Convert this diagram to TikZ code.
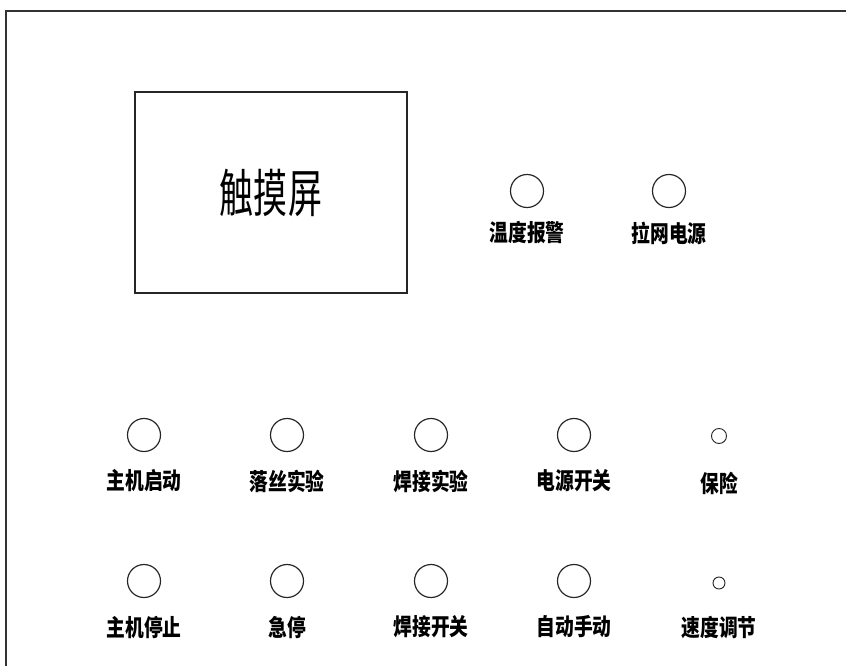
\documentclass[tikz,border=0pt]{standalone}
\usepackage{fontspec}
\newfontfamily\cjk{Noto Sans CJK SC}
\usepackage{tikz}
\usetikzlibrary{positioning}

\begin{document}
\begin{tikzpicture}[x=0.03cm, y=-0.03cm,
    panel/.style={draw=black!80, line width=1.6pt},
    screen/.style={draw=black!85, line width=1.1pt, minimum width=8.16cm, minimum height=6.03cm, inner sep=0pt},
    lamp/.style={circle, draw=black!85, line width=1pt, minimum size=0.99cm, inner sep=0pt},
    tinylamp/.style={lamp, line width=0.8pt, minimum size=0.45cm},
    tag/.style={inner sep=0pt, font=\cjk\bfseries\fontsize{20}{20}\selectfont}]

    % Define page and frame
    \useasboundingbox (0,0) rectangle (846,666);
    \draw[panel] (6,666) -- (6,11) -- (846,11);

    % Touch screen
    \node[screen, font=\cjk\fontsize{44}{44}\selectfont] (scr) at (271,192.5) {\scalebox{0.66}[1]{触摸屏}};

    % Upper indicators
    \foreach \n/\x/\t in {alarm/527/温度报警, net/669/拉网电源} {
        \node[lamp] (\n) at (\x,191) {};
        \node[tag, yshift=-1.26cm] (\n-t) at (\n) {\scalebox{0.8}[1]{\t}};
    }

    % Row of buttons 1
    \foreach \n/\x/\t in {start/144/主机启动, drop/287/落丝实验, weldtest/431/焊接实验, power/574/电源开关} {
        \node[lamp] (\n) at (\x,435) {};
        \node[tag, yshift=-1.38cm] (\n-t) at (\n) {\scalebox{0.8}[1]{\t}};
    }
    \node[tinylamp] (fuse) at (719,436) {};
    \node[tag, yshift=-1.41cm] (fuse-t) at (fuse) {\scalebox{0.8}[1]{保险}};

    % Row of buttons 2
    \foreach \n/\x/\t in {stop/144/主机停止, estop/287/急停, weld/431/焊接开关, auto/574/自动手动} {
        \node[lamp] (\n) at (\x,581) {};
        \node[tag, yshift=-1.38cm] (\n-t) at (\n) {\scalebox{0.8}[1]{\t}};
    }
    \node[tinylamp, minimum size=0.36cm] (speed) at (719,583) {};
    \node[tag, yshift=-1.32cm] (speed-t) at (speed) {\scalebox{0.8}[1]{速度调节}};

\end{tikzpicture}
\end{document}
